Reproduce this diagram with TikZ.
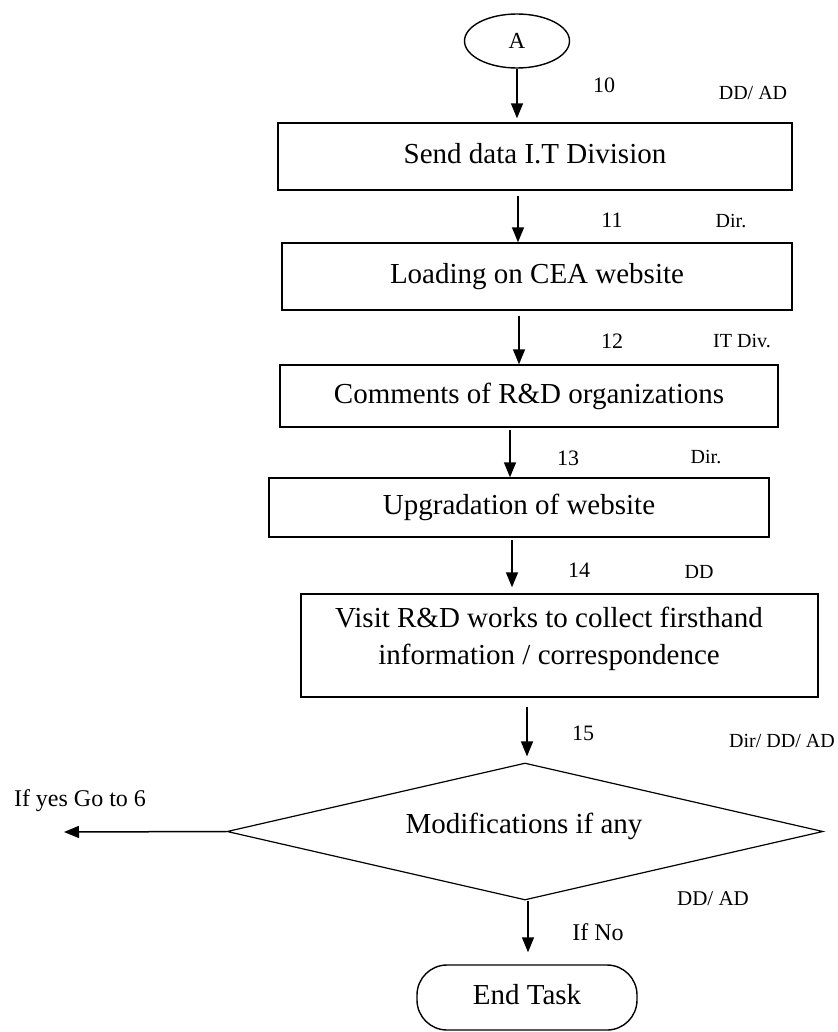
\documentclass[tikz,border=0pt]{standalone}
\usepackage{fontspec}
\setmainfont{Liberation Serif}
\usetikzlibrary{arrows.meta,shapes.geometric}
\begin{document}
\begin{tikzpicture}[x=1pt,y=-1pt,
  boxnode/.style={draw,line width=1.4pt,inner sep=0pt,font=\fontsize{29}{37}\selectfont,text height=21pt,text depth=7pt},
  arr/.style={line width=1.5pt,-{Triangle[length=15pt,width=12pt]}},
  num/.style={anchor=base,inner sep=0pt,font=\fontsize{22}{26}\selectfont},
  role/.style={anchor=base,inner sep=0pt,font=\fontsize{20}{24}\selectfont},
  ]
\useasboundingbox (0,0) rectangle (837,1032);
% start
\node[draw,ellipse,line width=1.4pt,minimum width=105pt,minimum height=54pt,inner sep=0pt,font=\fontsize{23}{26}\selectfont] (A) at (517,41) {A};
% boxes
\node[boxnode,minimum width=514pt,minimum height=67pt] (b1) at (535,156.5) {Send data I.T Division};
\node[boxnode,minimum width=510pt,minimum height=67pt] (b2) at (537,276.5) {Loading on CEA website};
\node[boxnode,minimum width=498pt,minimum height=62pt] (b3) at (529,396) {Comments of R\&D organizations};
\node[boxnode,minimum width=500pt,minimum height=59pt] (b4) at (519,507.5) {Upgradation of website};
\node[boxnode,minimum width=517pt,minimum height=103pt] (b5) at (559.5,645.5) {};
\node[align=center,inner sep=0pt,font=\fontsize{29}{37}\selectfont] (b5t) at (549,639) {Visit R\&D works to collect firsthand\\information / correspondence};
% decision
\node[draw,diamond,line width=1.2pt,minimum width=596pt,minimum height=137pt,shape aspect=4.35,inner sep=0pt] (d) at (525,831.5) {};
\node[inner sep=0pt,font=\fontsize{29}{37}\selectfont,text height=21pt,text depth=7pt] (dt) at (524,826) {Modifications if any};
% end
\node[draw,line width=1.4pt,rounded corners=30pt,minimum width=220pt,minimum height=65pt,inner sep=0pt,font=\fontsize{29}{37}\selectfont,text height=21pt,text depth=7pt] (e) at (527,997.5) {End Task};
\coordinate (yes) at (64,832);
% connectors
\draw[arr] (A.south) -- ([yshift=4pt]A.south |- b1.north);
\draw[arr] ([xshift=-17pt,yshift=-5pt]b1.south) -- ([xshift=-19pt]b2.north);
\draw[arr] ([xshift=-18pt,yshift=-5pt]b2.south) -- ([xshift=-10pt]b3.north);
\draw[arr] ([xshift=-19pt,yshift=-2pt]b3.south) -- ([xshift=-9pt]b4.north);
\draw[arr] ([xshift=-7pt,yshift=-2pt]b4.south) -- ([xshift=-47.5pt,yshift=6pt]b5.north);
\draw[arr] ([xshift=-32.5pt,yshift=-9pt]b5.south) -- ([xshift=2pt,yshift=6pt]d.north);
\draw[arr] (d.west) -- (yes);
\draw[arr] ([xshift=3pt]d.south) -- ([xshift=1pt,yshift=12pt]e.north);
% labels
\node[num] (n10) at (604,93) {10};
\node[role] (r10) at (753,100) {DD/ AD};
\node[num] (n11) at (612,227) {11};
\node[role] (r11) at (731,227) {Dir.};
\node[num] (n12) at (612,348) {12};
\node[role] (r12) at (742,347) {IT Div.};
\node[num] (n13) at (568,465) {13};
\node[role] (r13) at (706,463) {Dir.};
\node[num] (n14) at (579,577) {14};
\node[role] (r14) at (699,578) {DD};
\node[num] (n15) at (583,740) {15};
\node[role] (r15) at (782,747) {Dir/ DD/ AD};
\node[role,font=\fontsize{21}{24}\selectfont] (r16) at (713,905) {DD/ AD};
\node[num,font=\fontsize{24}{28}\selectfont] (ifno) at (598,940) {If No};
\node[num,font=\fontsize{24}{28}\selectfont] (ifyes) at (80,806) {If yes Go to 6};
\end{tikzpicture}
\end{document}
